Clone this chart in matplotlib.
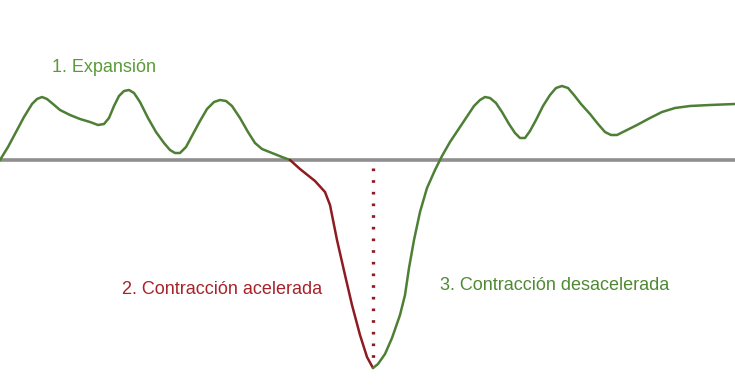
import matplotlib.pyplot as plt

# curve: x position and level above the baseline
exp_x = [0, 8, 16, 24, 32, 37, 42, 47, 53, 60, 70, 80, 90, 98, 104, 109, 114, 119, 124,
         129, 134, 140, 148, 156, 164, 170, 175, 180, 186, 193, 200, 207, 214, 220, 226,
         232, 240, 248, 255, 262, 272, 282, 290]
exp_y = [0, 13, 28, 43, 56, 61, 63, 61, 56, 50, 45, 41, 38, 35, 36, 42, 54, 64, 69,
         70, 67, 58, 42, 28, 17, 10, 7, 7, 13, 26, 39, 51, 58, 60, 59,
         54, 42, 28, 17, 11, 7, 3, 0]

acc_x = [290, 300, 315, 325, 330, 337, 345, 352, 360, 367, 373]
acc_y = [0, -9, -21, -32, -45, -80, -115, -145, -175, -197, -208]

dec_x = [373, 378, 385, 392, 400, 405, 409, 414, 420, 427, 435, 442, 450, 458, 466, 474,
         480, 485, 490, 496, 502, 509, 515, 520, 525, 530, 536, 543, 550, 556, 562, 568,
         574, 581, 590, 598, 605, 611, 617, 625, 637, 650, 662, 675, 690, 710, 735]
dec_y = [-208, -204, -194, -178, -155, -135, -108, -80, -52, -28, -10, 4, 18, 30, 42, 54,
         60, 63, 62, 57, 48, 36, 27, 22, 22, 29, 40, 54, 65, 72, 74, 72,
         65, 56, 46, 36, 28, 25, 25, 29, 35, 42, 48, 52, 54, 55, 56]

trough_x = 373
trough_top = -8
trough_bottom = -202

labels = ["1. Expansión", "2. Contracción acelerada", "3. Contracción desacelerada"]

green = "#4d7f35"
red = "#8e1b22"

fig = plt.figure(figsize=(7.35, 3.85), dpi=100)
ax = fig.add_axes([0, 0, 1, 1])

ax.axhline(0, color="#8f8f8f", lw=2.6, zorder=1)
line_kw = dict(lw=1.8, solid_joinstyle="round", solid_capstyle="round", zorder=2)
ax.plot(exp_x, exp_y, color=green, **line_kw)
ax.plot(acc_x, acc_y, color=red, **line_kw)
ax.plot(dec_x, dec_y, color=green, **line_kw)
ax.plot([trough_x, trough_x], [trough_top, trough_bottom], color=red, lw=2.4,
        linestyle=(0, (0.8, 2.7)), zorder=3)

ax.text(52, 93, labels[0], color="#5a9a3a", fontsize=13, family="Liberation Sans", va="center")
ax.text(122, -130, labels[1], color="#a8222a", fontsize=13, family="Liberation Sans", va="center")
ax.text(440, -125, labels[2], color="#4f8a33", fontsize=13, family="Liberation Sans", va="center")

ax.set_xlim(0, 735)
ax.set_ylim(-225, 160)
ax.axis("off")

fig.savefig("out.png", dpi=100)
